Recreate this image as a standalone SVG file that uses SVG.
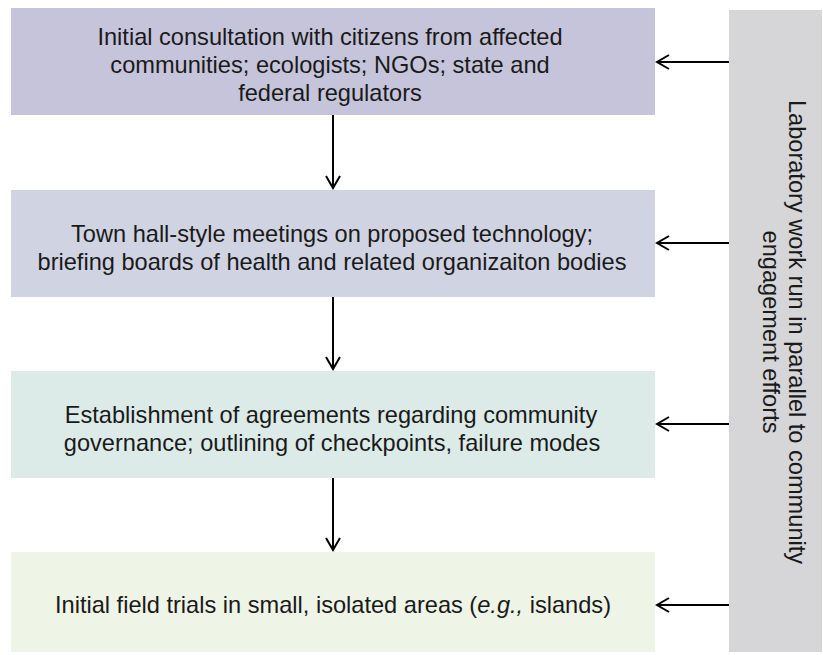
<svg xmlns="http://www.w3.org/2000/svg" width="823" height="655" viewBox="0 0 823 655">
<defs>
<marker id="ah" markerWidth="16" markerHeight="16" refX="14" refY="8" orient="auto" markerUnits="userSpaceOnUse">
<path d="M2,1 L14,8 L2,15" fill="none" stroke="#000" stroke-width="2"/>
</marker>
<style>
text{font-family:"Liberation Sans",Arial,sans-serif;font-size:23.6px;fill:#1a1a1a;text-anchor:middle}
.c{stroke:#000;stroke-width:2;fill:none}
</style>
</defs>
<rect width="823" height="655" fill="#fff"/>
<g id="n1"><rect x="11" y="8" width="644" height="107" fill="#c6c4da"/>
<text x="330" y="45">Initial consultation with citizens from affected</text>
<text x="330" y="73">communities; ecologists; NGOs; state and</text>
<text x="330" y="101">federal regulators</text></g>
<g id="n2"><rect x="11" y="190" width="644" height="107" fill="#d0d4e2"/>
<text x="332" y="242">Town hall-style meetings on proposed technology;</text>
<text x="332" y="270">briefing boards of health and related organizaiton bodies</text></g>
<g id="n3"><rect x="11" y="371" width="644" height="107" fill="#dcebe8"/>
<text x="331" y="423">Establishment of agreements regarding community</text>
<text x="332" y="451">governance; outlining of checkpoints, failure modes</text></g>
<g id="n4"><rect x="11" y="552" width="644" height="100" fill="#eef4e6"/>
<text x="333" y="613">Initial field trials in small, isolated areas (<tspan font-style="italic">e.g.,</tspan> islands)</text></g>
<g id="lab"><rect x="729" y="10" width="93" height="642" fill="#d6d6d8"/>
<text transform="translate(784,332) rotate(90)"><tspan x="0" y="-5">Laboratory work run in parallel to community</tspan><tspan x="0" y="21">engagement efforts</tspan></text></g>
<g id="connectors">
<line class="c" x1="333" y1="115" x2="333" y2="188" marker-end="url(#ah)"/>
<line class="c" x1="333" y1="297" x2="333" y2="369" marker-end="url(#ah)"/>
<line class="c" x1="333" y1="478" x2="333" y2="550" marker-end="url(#ah)"/>
<line class="c" x1="729" y1="62" x2="657" y2="62" marker-end="url(#ah)"/>
<line class="c" x1="729" y1="243" x2="657" y2="243" marker-end="url(#ah)"/>
<line class="c" x1="729" y1="424" x2="657" y2="424" marker-end="url(#ah)"/>
<line class="c" x1="729" y1="605" x2="657" y2="605" marker-end="url(#ah)"/>
</g>
</svg>
